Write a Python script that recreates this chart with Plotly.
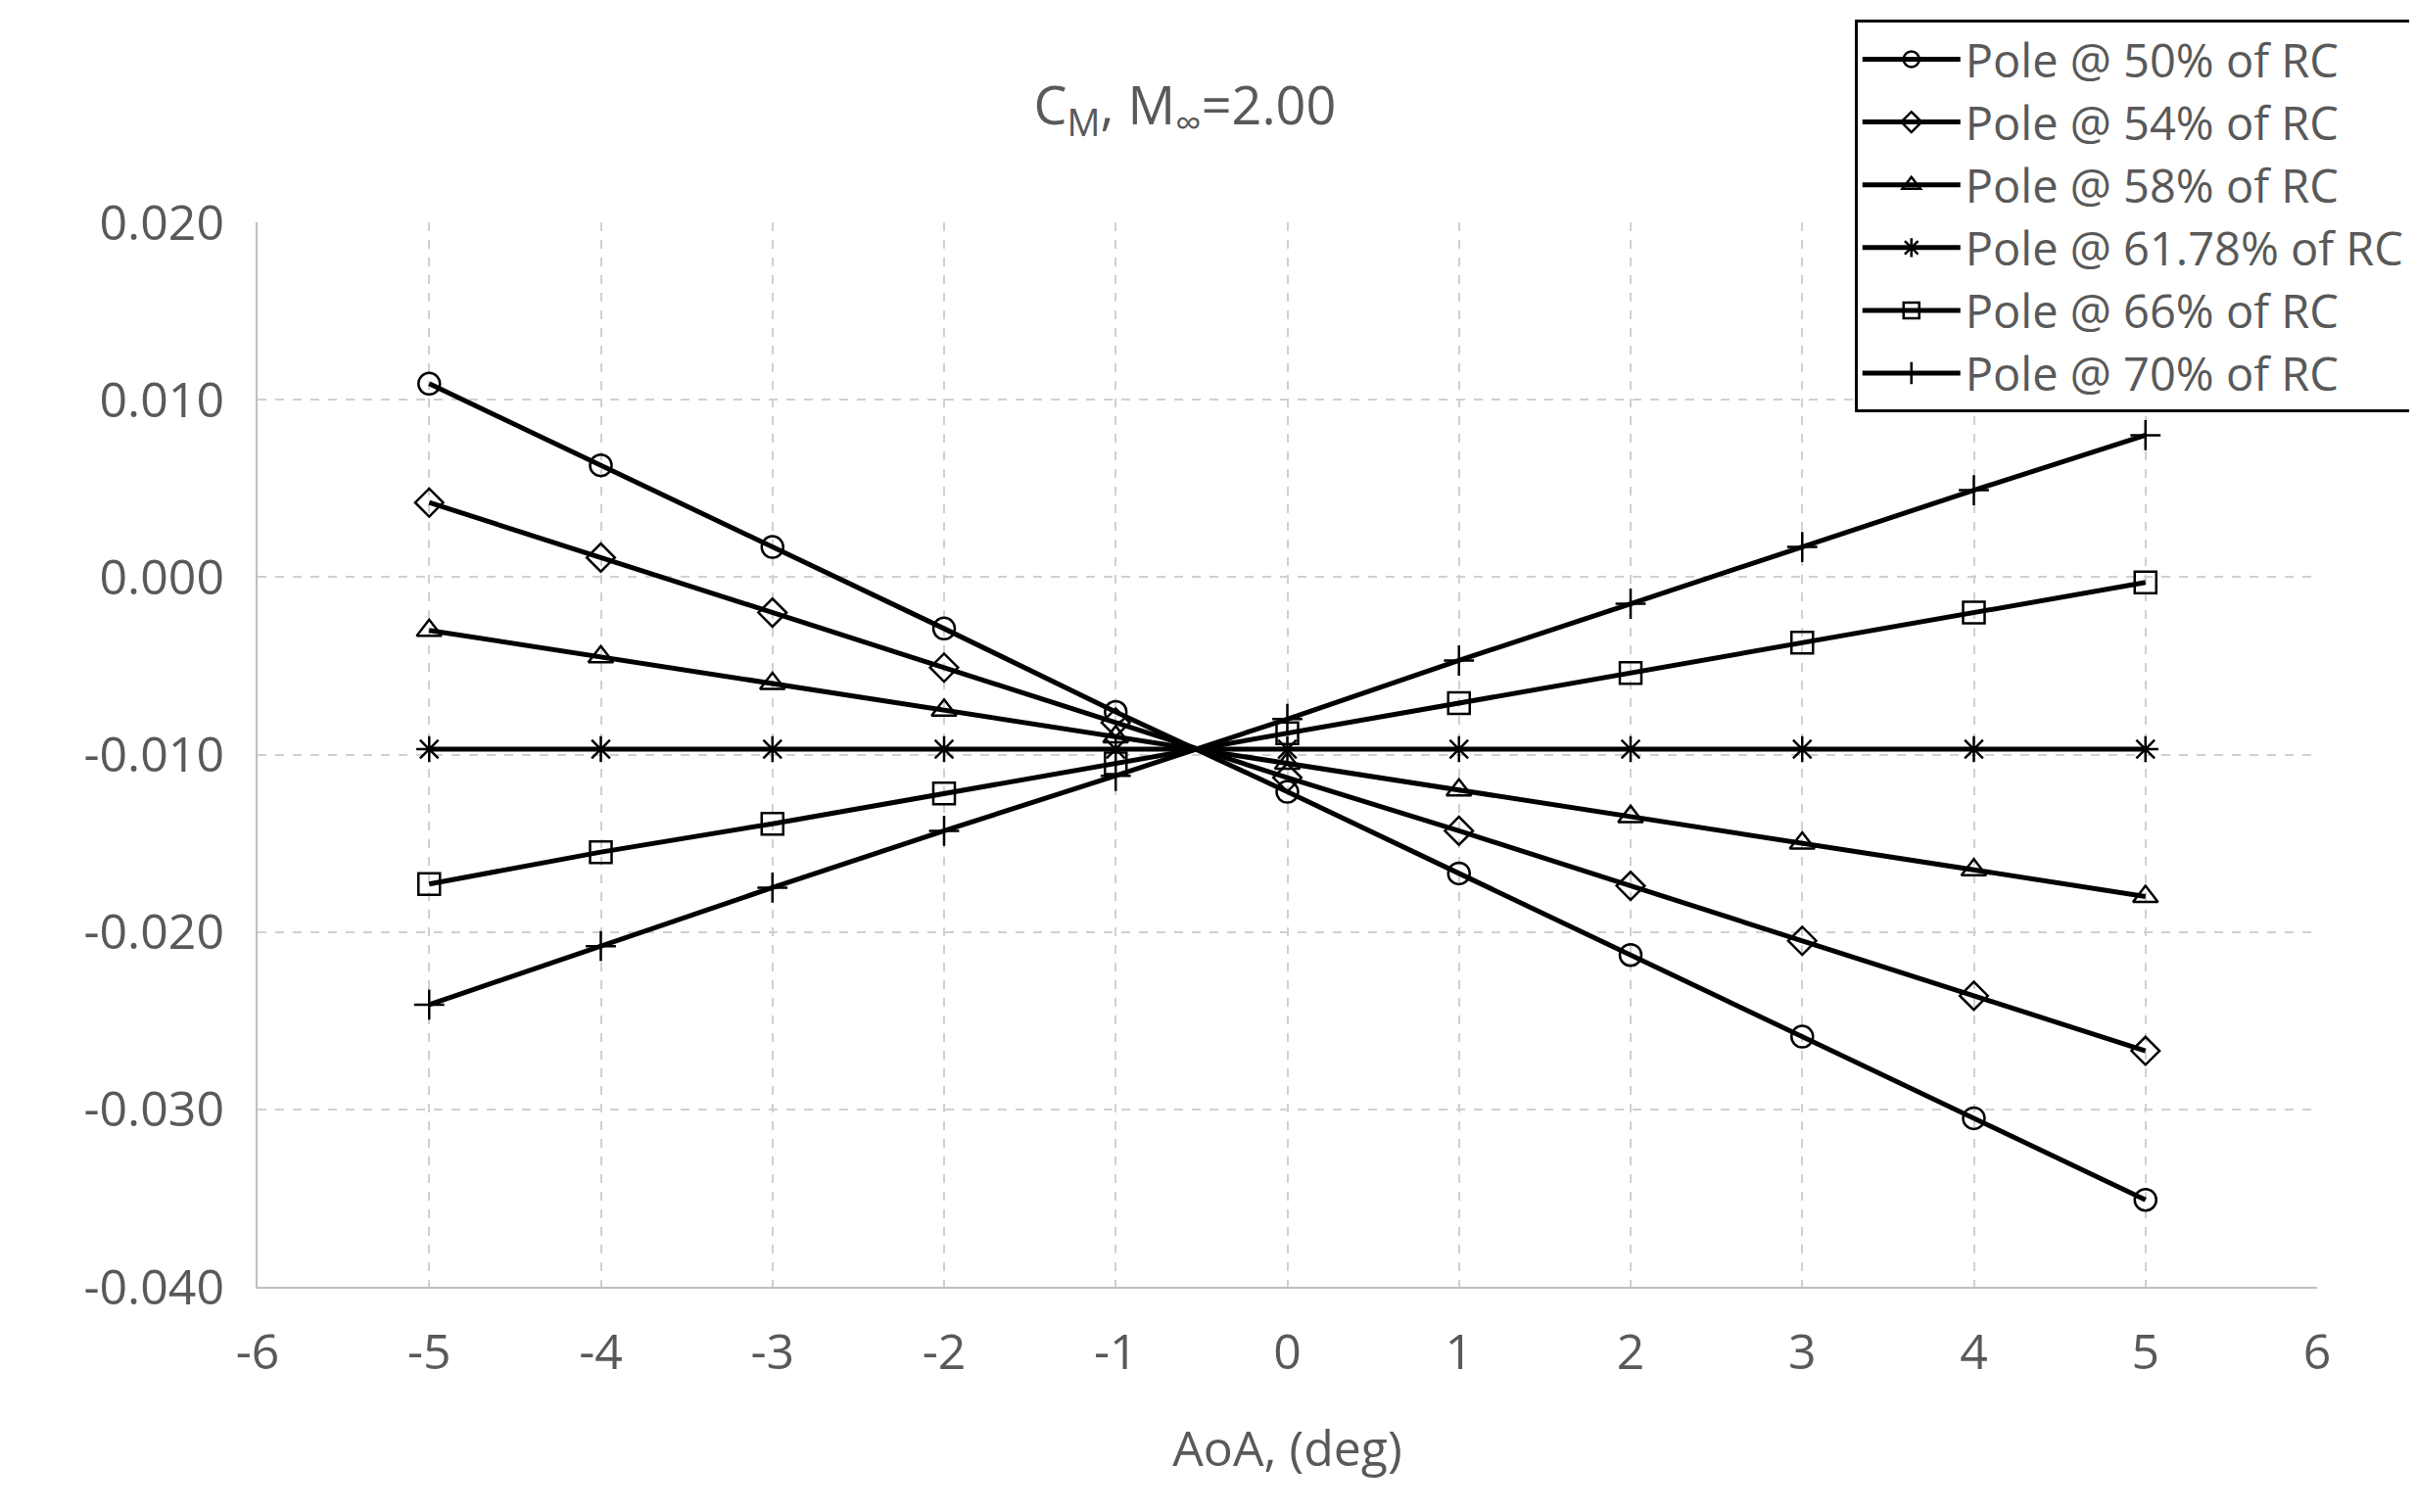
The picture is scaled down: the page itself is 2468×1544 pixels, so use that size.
import plotly.graph_objects as go

aoa = [-5, -4, -3, -2, -1, 0, 1, 2, 3, 4, 5]
names = ["Pole @ 50% of RC", "Pole @ 54% of RC", "Pole @ 58% of RC",
         "Pole @ 61.78% of RC", "Pole @ 66% of RC", "Pole @ 70% of RC"]
cm50 = [0.0109, 0.0063, 0.0017, -0.0029, -0.0076, -0.0121, -0.0167, -0.0213, -0.0259, -0.0305, -0.0351]
cm54 = [0.0042, 0.0011, -0.0020, -0.0051, -0.0082, -0.0113, -0.0143, -0.0174, -0.0205, -0.0236, -0.0267]
cm58 = [-0.0030, -0.0045, -0.0060, -0.0075, -0.0090, -0.0105, -0.0120, -0.0135, -0.0150, -0.0165, -0.0180]
cm6178 = [-0.0097] * 11
cm66 = [-0.0173, -0.0155, -0.0139, -0.0122, -0.0105, -0.0088, -0.0071, -0.0054, -0.0037, -0.0020, -0.0003]
cm70 = [-0.0241, -0.0208, -0.0175, -0.0143, -0.0112, -0.0080, -0.0047, -0.0015, 0.0017, 0.0049, 0.0080]
series = [cm50, cm54, cm58, cm6178, cm66, cm70]
symbols = ["circle-open", "diamond-open", "triangle-up-open", "asterisk-open", "square-open", "cross-thin-open"]
xticks = [-6, -5, -4, -3, -2, -1, 0, 1, 2, 3, 4, 5, 6]
yticks = [0.02, 0.01, 0.0, -0.01, -0.02, -0.03, -0.04]

fig = go.Figure()
for n, s, sym in zip(names, series, symbols):
    fig.add_trace(go.Scatter(x=aoa, y=s, name=n, mode="lines+markers",
                             line=dict(color="black", width=5),
                             marker=dict(symbol=sym, size=22, color="black",
                                         line=dict(color="black", width=2.5))))

grid = dict(showgrid=True, gridcolor="#d0d0d0", griddash="dash", gridwidth=2,
            zeroline=False, tickfont=dict(size=50, color="#595959"),
            linecolor="#bfbfbf", linewidth=2, showline=True,
            ticks="outside", tickcolor="rgba(0,0,0,0)", ticklen=22)
fig.update_layout(
    width=2468, height=1544, paper_bgcolor="white", plot_bgcolor="white",
    font=dict(family="Open Sans", color="#595959"),
    margin=dict(l=255, r=110, t=217, b=238),
    title=dict(text="C<sub>M</sub>, M<sub>∞</sub>=2.00", x=0.487, xanchor="center",
               y=0.935, yanchor="middle", font=dict(size=54, color="#595959")),
    xaxis=dict(range=[-6, 6], tickvals=xticks, ticktext=[str(v) for v in xticks],
               title=dict(text="AoA, (deg)", font=dict(size=50, color="#595959"), standoff=50),
               **grid),
    yaxis=dict(range=[-0.04, 0.02], tickvals=yticks, ticktext=["%.3f" % v for v in yticks], **grid),
    legend=dict(x=1.046, xanchor="right", y=1.19, yanchor="top", bgcolor="white",
                bordercolor="black", borderwidth=3, font=dict(size=47, color="#595959"),
                tracegroupgap=0, itemwidth=100),
)
fig.write_html("out.html")
